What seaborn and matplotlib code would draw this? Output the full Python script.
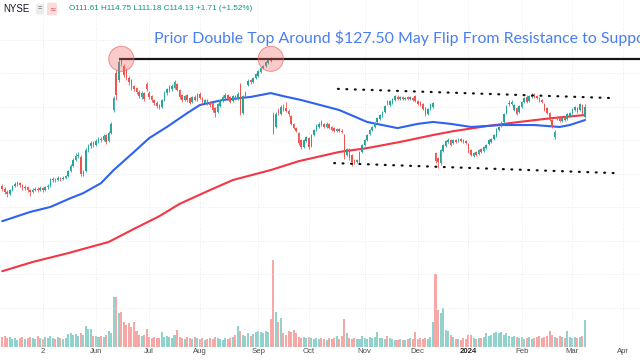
import numpy as np
import matplotlib
matplotlib.use("Agg")
import matplotlib.pyplot as plt
import seaborn as sns
from matplotlib.patches import Ellipse

# daily candles, trading day 0 = 10 Apr 2023 ... 230 = 8 Mar 2024
opens = [93.5, 92.8, 92.0, 91.5, 92.5, 93.5, 94.1, 94.3, 93.8, 93.0,
         93.3, 92.5, 92.0, 92.5, 92.8, 92.5, 93.0, 92.5, 93.3, 93.5,
         95.1, 95.4, 95.1, 95.6, 95.4, 95.6, 96.1, 97.4, 98.7, 100.3,
         101.3, 101.1, 96.7, 97.4, 102.9, 103.9, 104.7, 104.2, 105.2, 105.8,
         105.5, 106.8, 105.2, 107.3, 113.3, 122.9, 121.1, 126.3, 124.7, 123.7,
         121.6, 121.1, 119.5, 119.0, 118.0, 116.7, 117.7, 120.1, 117.7, 116.9,
         115.9, 115.1, 114.6, 114.1, 115.9, 117.7, 118.5, 118.8, 119.0, 120.1,
         118.5, 117.2, 115.9, 117.2, 116.4, 115.4, 116.7, 115.9, 117.5, 116.4,
         115.1, 115.9, 115.4, 115.1, 113.8, 112.8, 114.3, 115.6, 116.4, 117.2,
         116.7, 115.6, 116.9, 116.2, 119.8, 112.5, 116.9, 119.8, 121.1, 120.6,
         121.6, 122.1, 123.2, 124.2, 124.7, 125.5, 126.6, 112.0, 108.9, 113.3,
         112.3, 114.1, 113.8, 113.0, 111.7, 109.7, 108.6, 107.3, 105.5, 103.7,
         105.2, 106.0, 103.9, 106.8, 108.1, 108.9, 110.4, 109.7, 108.9, 109.7,
         108.9, 108.6, 107.8, 108.4, 107.8, 106.8, 101.6, 103.2, 101.6, 100.3,
         99.8, 99.8, 102.4, 104.2, 105.5, 107.1, 108.1, 108.9, 110.2, 111.0,
         111.7, 112.8, 115.6, 114.6, 115.1, 115.9, 116.7, 116.2, 116.7, 116.2,
         116.7, 116.2, 116.4, 116.9, 115.6, 115.4, 114.9, 113.8, 112.3, 113.6,
         114.1, 102.1, 100.8, 99.5, 102.6, 103.9, 105.0, 105.5, 104.7, 105.5,
         105.2, 105.8, 105.5, 105.2, 104.5, 102.9, 101.3, 102.4, 101.9, 103.2,
         102.6, 103.4, 104.5, 105.0, 105.8, 106.5, 108.1, 109.1, 110.2, 112.5,
         114.9, 114.9, 113.3, 113.8, 112.8, 114.1, 115.4, 116.7, 115.6, 116.7,
         117.5, 116.9, 116.4, 115.9, 114.9, 113.8, 112.5, 110.7, 106.3, 111.5,
         111.2, 110.4, 111.5, 111.0, 111.7, 112.5, 113.3, 113.8, 113.3, 114.6,
         111.61]
highs = [94.1, 93.3, 92.5, 92.8, 93.8, 94.6, 94.8, 94.6, 94.1, 93.8,
         93.5, 92.8, 93.0, 93.3, 93.3, 93.5, 93.3, 93.5, 94.1, 95.6,
         95.9, 95.6, 96.1, 95.9, 96.1, 96.4, 97.7, 99.3, 100.8, 102.1,
         102.4, 101.6, 97.7, 103.4, 104.5, 105.2, 105.2, 105.8, 106.3, 106.3,
         107.1, 107.1, 107.8, 110.2, 116.9, 123.7, 127.1, 126.8, 125.3, 124.2,
         122.1, 121.4, 119.8, 119.3, 118.5, 118.2, 118.0, 120.6, 118.2, 117.2,
         116.2, 115.6, 114.9, 116.2, 118.2, 119.0, 119.8, 120.1, 121.1, 120.3,
         118.8, 117.5, 117.2, 117.5, 116.7, 116.9, 117.2, 117.7, 118.0, 116.7,
         116.2, 116.2, 115.6, 115.4, 114.1, 115.1, 116.2, 117.2, 117.7, 117.5,
         116.9, 117.2, 117.2, 118.0, 120.3, 117.2, 118.2, 121.4, 121.4, 121.9,
         122.9, 123.7, 124.5, 125.0, 126.0, 126.6, 127.1, 112.8, 112.8, 113.8,
         114.6, 114.9, 115.4, 113.6, 112.0, 109.9, 108.9, 107.6, 105.8, 105.8,
         106.5, 106.3, 107.1, 108.4, 109.7, 110.2, 110.7, 109.9, 110.2, 109.9,
         109.1, 108.9, 108.6, 108.6, 108.4, 107.1, 103.4, 103.4, 101.9, 100.6,
         100.6, 102.6, 104.5, 105.8, 107.1, 108.4, 109.1, 110.2, 111.5, 112.3,
         113.0, 114.6, 115.9, 115.9, 116.4, 117.2, 117.2, 116.9, 116.9, 116.7,
         116.9, 116.9, 116.7, 117.2, 115.9, 115.6, 115.1, 114.1, 113.8, 115.1,
         115.4, 102.4, 101.1, 103.2, 104.5, 105.5, 106.0, 105.8, 105.8, 105.8,
         106.0, 106.0, 105.8, 105.5, 104.7, 103.2, 102.4, 102.6, 103.2, 103.4,
         103.9, 104.5, 105.8, 106.0, 107.1, 108.6, 109.1, 110.4, 112.5, 114.6,
         115.9, 115.9, 114.9, 114.1, 114.6, 115.6, 116.7, 117.2, 117.2, 117.7,
         117.7, 117.2, 116.7, 116.2, 115.1, 114.1, 112.8, 111.0, 108.1, 111.7,
         111.5, 111.5, 111.7, 112.5, 112.8, 113.8, 114.3, 114.1, 115.1, 114.9,
         114.75]
lows = [92.2, 91.5, 90.7, 91.2, 92.2, 93.3, 93.5, 93.3, 92.5, 92.5,
        92.0, 90.9, 91.7, 92.2, 92.0, 92.2, 92.0, 92.2, 92.8, 93.3,
        94.6, 94.6, 94.8, 94.8, 95.1, 95.4, 95.9, 97.2, 98.5, 100.0,
        100.8, 96.1, 96.1, 97.2, 102.4, 103.4, 103.7, 103.9, 104.7, 105.0,
        105.2, 104.5, 105.0, 107.1, 112.8, 115.9, 120.6, 124.7, 121.9, 121.1,
        119.8, 118.5, 118.2, 117.5, 116.4, 116.2, 115.6, 118.2, 116.2, 115.4,
        114.6, 113.8, 113.6, 113.8, 115.6, 117.2, 118.0, 118.2, 118.8, 118.2,
        116.2, 115.4, 115.6, 115.4, 114.9, 115.1, 115.6, 115.6, 116.2, 114.9,
        114.9, 114.6, 114.1, 112.8, 111.5, 112.5, 114.1, 115.4, 116.2, 115.9,
        115.1, 115.4, 115.9, 115.9, 112.0, 112.3, 116.7, 119.5, 120.1, 120.3,
        121.4, 121.9, 122.9, 124.0, 124.5, 125.3, 125.8, 107.1, 108.6, 112.0,
        112.0, 113.0, 112.8, 111.7, 109.4, 108.4, 107.6, 104.2, 103.2, 103.4,
        105.0, 103.2, 103.7, 106.5, 107.8, 108.6, 109.1, 108.6, 108.6, 108.4,
        107.8, 107.6, 107.6, 107.6, 107.3, 100.6, 101.3, 100.3, 98.7, 99.3,
        99.5, 99.5, 102.1, 103.9, 105.2, 106.8, 107.8, 108.6, 109.9, 110.7,
        111.5, 112.5, 114.6, 114.3, 114.9, 115.6, 115.9, 115.9, 115.9, 115.9,
        115.9, 115.9, 115.6, 115.4, 114.6, 114.3, 113.3, 111.7, 112.0, 113.3,
        113.8, 99.5, 98.2, 99.0, 102.4, 103.7, 104.7, 103.9, 104.5, 104.7,
        105.0, 105.0, 104.7, 104.5, 102.1, 101.3, 101.1, 101.3, 101.6, 102.1,
        102.4, 103.2, 104.2, 104.7, 105.5, 106.3, 107.8, 108.9, 109.9, 112.3,
        114.3, 114.6, 113.0, 112.0, 112.5, 113.8, 115.1, 115.1, 115.4, 116.4,
        116.4, 116.2, 115.4, 115.1, 113.0, 112.3, 110.4, 108.6, 105.8, 110.7,
        110.2, 110.2, 110.4, 110.7, 111.5, 112.3, 113.0, 112.5, 113.0, 112.3,
        111.18]
closes = [92.8, 92.0, 91.5, 92.5, 93.5, 94.1, 94.3, 93.8, 93.0, 93.3,
          92.5, 92.0, 92.5, 92.8, 92.5, 93.0, 92.5, 93.3, 93.5, 95.1,
          95.4, 95.1, 95.6, 95.4, 95.6, 96.1, 97.4, 98.7, 100.3, 101.3,
          101.6, 96.7, 97.2, 102.9, 103.9, 104.7, 104.2, 105.2, 105.8, 105.5,
          106.5, 105.0, 107.3, 109.7, 116.4, 117.2, 125.8, 125.3, 122.4, 121.6,
          120.6, 119.0, 118.8, 118.0, 116.9, 117.7, 116.2, 118.8, 116.7, 115.9,
          115.1, 114.3, 114.1, 115.9, 117.7, 118.8, 119.3, 119.5, 120.6, 118.5,
          116.7, 115.9, 116.9, 115.9, 115.1, 116.7, 115.9, 117.5, 116.4, 115.4,
          115.9, 115.1, 114.6, 113.3, 112.5, 114.9, 115.9, 116.7, 117.2, 116.2,
          115.4, 116.9, 116.2, 117.5, 112.5, 116.9, 117.7, 120.8, 120.6, 121.6,
          122.7, 123.4, 124.2, 124.7, 125.8, 126.3, 126.0, 107.6, 112.3, 112.5,
          114.1, 113.3, 113.0, 112.3, 109.7, 108.6, 107.8, 104.7, 103.7, 105.5,
          106.3, 103.7, 106.8, 108.1, 109.1, 109.7, 109.4, 108.9, 109.7, 108.6,
          108.1, 107.8, 108.4, 107.8, 107.6, 101.1, 103.2, 100.8, 99.8, 99.5,
          100.3, 102.4, 104.2, 105.5, 106.8, 108.1, 108.9, 109.9, 111.2, 112.0,
          112.8, 114.3, 114.9, 115.6, 116.2, 116.9, 116.2, 116.7, 116.2, 116.4,
          116.2, 116.7, 115.9, 115.6, 114.9, 114.6, 113.6, 112.3, 113.6, 114.9,
          115.1, 100.0, 99.8, 102.9, 104.2, 105.2, 105.5, 104.2, 105.5, 105.0,
          105.8, 105.2, 105.0, 104.7, 102.4, 101.6, 102.1, 101.6, 102.9, 102.4,
          103.7, 104.2, 105.5, 105.8, 106.8, 108.4, 108.9, 110.2, 112.3, 114.3,
          115.1, 115.4, 114.6, 112.3, 114.3, 115.4, 116.4, 115.4, 116.9, 117.2,
          116.7, 116.4, 115.6, 115.4, 113.3, 112.5, 110.7, 108.9, 107.6, 111.0,
          110.4, 111.2, 110.7, 112.3, 112.5, 113.6, 114.1, 112.8, 114.9, 112.42,
          114.13]
# volume, millions of shares
volumes = [7.0, 7.7, 6.3, 7.0, 5.6, 6.3, 4.9, 6.3, 7.0, 5.6,
           6.3, 7.0, 6.3, 5.6, 7.7, 6.3, 5.6, 7.0, 6.3, 7.7,
           6.3, 5.6, 7.0, 6.3, 5.6, 6.3, 9.1, 9.8, 8.4, 9.1,
           7.7, 9.8, 8.4, 14.7, 12.6, 12.6, 7.7, 7.7, 7.0, 7.7,
           7.0, 8.4, 11.2, 9.8, 35.0, 35.0, 23.8, 24.5, 17.5, 15.4,
           16.8, 14.0, 17.5, 11.2, 8.4, 7.7, 8.4, 12.6, 7.0, 6.3,
           7.0, 6.3, 6.3, 10.5, 7.0, 7.7, 7.0, 6.3, 8.4, 11.9,
           7.0, 6.3, 5.6, 7.0, 6.3, 5.6, 7.0, 6.3, 5.6, 6.3,
           4.9, 5.6, 6.3, 5.6, 7.0, 6.3, 5.6, 4.9, 6.3, 5.6,
           6.3, 7.0, 8.4, 14.7, 11.2, 8.4, 7.7, 9.8, 7.7, 9.1,
           10.5, 11.2, 10.5, 9.8, 11.2, 10.5, 19.6, 60.9, 24.5, 17.5,
           20.3, 9.8, 8.4, 11.2, 10.5, 11.9, 9.8, 7.0, 6.3, 7.0,
           6.3, 7.0, 6.3, 5.6, 6.3, 5.6, 6.3, 5.6, 4.9, 6.3,
           5.6, 6.3, 7.7, 5.6, 7.7, 19.6, 9.8, 6.3, 5.6, 6.3,
           5.6, 5.6, 7.7, 6.3, 5.6, 7.0, 6.3, 7.0, 10.5, 6.3,
           6.3, 5.6, 7.7, 6.3, 5.6, 4.9, 4.9, 5.6, 4.9, 4.9,
           5.6, 6.3, 5.6, 10.5, 5.6, 6.3, 5.6, 6.3, 5.6, 7.0,
           17.5, 51.1, 25.9, 23.8, 27.3, 11.9, 11.2, 8.4, 7.0, 5.6,
           5.6, 4.9, 6.3, 5.6, 8.4, 8.4, 6.3, 5.6, 6.3, 6.3,
           7.0, 9.8, 7.7, 8.4, 9.8, 10.5, 9.8, 10.5, 8.4, 9.8,
           7.7, 7.0, 7.7, 7.0, 6.3, 7.0, 5.6, 6.3, 7.0, 5.6,
           6.3, 7.0, 7.7, 6.3, 7.0, 7.7, 11.2, 8.4, 7.0, 6.3,
           7.7, 7.0, 6.3, 11.2, 7.0, 6.3, 7.0, 6.3, 7.0, 7.7,
           18.9]

# moving averages (trading day, price)
ma50_days = [0, 11, 19, 27, 32, 39, 44, 52, 58, 65, 73, 78, 87, 98, 106, 111,
             118, 133, 144, 156, 164, 170, 177, 185, 197, 210, 220, 224, 230]
ma50_vals = [84.4, 86.8, 88.1, 90.4, 91.7, 94.3, 97.7, 102.4, 106.0, 108.9, 112.5,
             114.6, 115.9, 116.7, 117.7, 116.9, 115.9, 113.3, 110.2, 108.6, 109.7,
             110.2, 109.7, 108.9, 109.4, 109.4, 108.9, 109.4, 110.7]
ma200_days = [0, 12, 26, 42, 52, 62, 70, 81, 91, 106, 117, 133, 144, 157, 170,
              178, 191, 204, 217, 230]
ma200_vals = [71.4, 73.8, 76.1, 79.0, 82.4, 85.7, 88.9, 92.2, 95.1, 97.7, 100.0,
              102.4, 103.4, 105.0, 106.8, 107.8, 109.1, 110.2, 111.2, 112.0]

# annotations
res_level = 126.6
res_start = 46.5
top_days = [47, 106]
upper_days, upper_vals = [132.5, 241], [118.8, 116.4]
lower_days, lower_vals = [131, 242], [99.5, 96.9]

tick_days = [16, 37, 58, 78, 101, 121, 143, 164, 184, 205, 225, 245]
tick_labels = ['2', 'Jun', 'Jul', 'Aug', 'Sep', 'Oct', 'Nov', 'Dec', '2024', 'Feb', 'Mar', 'Apr']
grid_levels = [131.5, 122.8, 114.1, 105.4, 96.7, 88.0, 79.3, 70.6, 61.9]

GREEN = '#26a69a'
RED = '#ef5350'
BLUE = '#2f62f0'
MA_RED = '#f23645'

sns.set_theme(style='white')
plt.rcParams['font.family'] = ['Liberation Sans', 'DejaVu Sans']

fig = plt.figure(figsize=(6.4, 3.6), dpi=100)
rect = [0, 13 / 360, 1, 347 / 360]
ax_vol = fig.add_axes(rect)
ax = fig.add_axes(rect)
ax.patch.set_alpha(0)

xmin, xmax = -0.87, 251.7
days = np.arange(len(closes))
o = np.array(opens)
c = np.array(closes)
up = c >= o
cols = np.where(up, GREEN, RED)

# volume
ax_vol.bar(days, volumes, width=0.8, color=cols, alpha=0.5, linewidth=0)
ax_vol.set_xlim(xmin, xmax)
ax_vol.set_ylim(0, 242.9)
ax_vol.axis('off')

# grid
ax.set_xlim(xmin, xmax)
ax.set_ylim(51.7, 141.9)
ax.set_yticks(grid_levels)
ax.set_xticks(tick_days)
ax.set_xticklabels(tick_labels)
ax.grid(True, ls=(0, (1, 2)), color='#e3e3e3', lw=0.6)
ax.set_axisbelow(True)
for s in ax.spines.values():
    s.set_visible(False)
ax.tick_params(axis='y', left=False, labelleft=False, length=0)
ax.tick_params(axis='x', bottom=False, length=0, pad=0.8, labelsize=5.6, labelcolor='#4a4a4a')
for lab in ax.get_xticklabels():
    if lab.get_text() == '2024':
        lab.set_fontweight('bold')
        lab.set_color('#222222')

# moving averages
sns.lineplot(x=ma200_days, y=ma200_vals, ax=ax, color=MA_RED, lw=1.5, zorder=3)
sns.lineplot(x=ma50_days, y=ma50_vals, ax=ax, color=BLUE, lw=1.5, zorder=3)

# candles
ax.vlines(days, lows, highs, colors=cols, lw=0.6, zorder=4)
ax.bar(days, np.maximum(np.abs(c - o), 0.2), bottom=np.minimum(o, c), width=0.62,
       color=cols, linewidth=0, zorder=4)
ax.set_xlabel('')
ax.set_ylabel('')

# resistance line and double-top circles
ax.plot([res_start, xmax], [res_level, res_level], color='#151515', lw=1.6, zorder=5)
for d in top_days:
    ax.add_patch(Ellipse((d, res_level), 9.9, 6.5, facecolor=(0.95, 0.42, 0.42, 0.35),
                         edgecolor=(0.92, 0.4, 0.4, 0.7), lw=0.7, zorder=6))

# channel
for xs, ys in [(upper_days, upper_vals), (lower_days, lower_vals)]:
    ax.plot(xs, ys, color='#111111', lw=1.6, ls=(0, (0.4, 3.4)),
            dash_capstyle='round', zorder=5)

# header
fig.text(3 / 640, 1 - 9 / 360, 'NYSE', fontsize=7, color='#131722', va='center')
fig.text(40 / 640, 1 - 9 / 360, '=', fontsize=5.5, color='#555555', va='center', ha='center',
         bbox=dict(boxstyle='round,pad=0.25', fc='#ececec', ec='none'))
fig.text(52 / 640, 1 - 9 / 360, '≈', fontsize=5.5, color='#e84c4c', va='center', ha='center',
         family=['DejaVu Sans'],
         bbox=dict(boxstyle='round,pad=0.25', fc='#fbdcdc', ec='none'))
fig.text(69 / 640, 1 - 9 / 360, 'O111.61 H114.75 L111.18 C114.13 +1.71 (+1.52%)',
         fontsize=5.9, color='#089981', va='center')

fig.text(154 / 640, 1 - 38 / 360,
         'Prior Double Top Around $127.50 May Flip From Resistance to Support',
         fontsize=11.4, color='#4a7ef0', family=['Lato', 'DejaVu Sans'], va='center', ha='left')

fig.savefig('out.png', dpi=100)
